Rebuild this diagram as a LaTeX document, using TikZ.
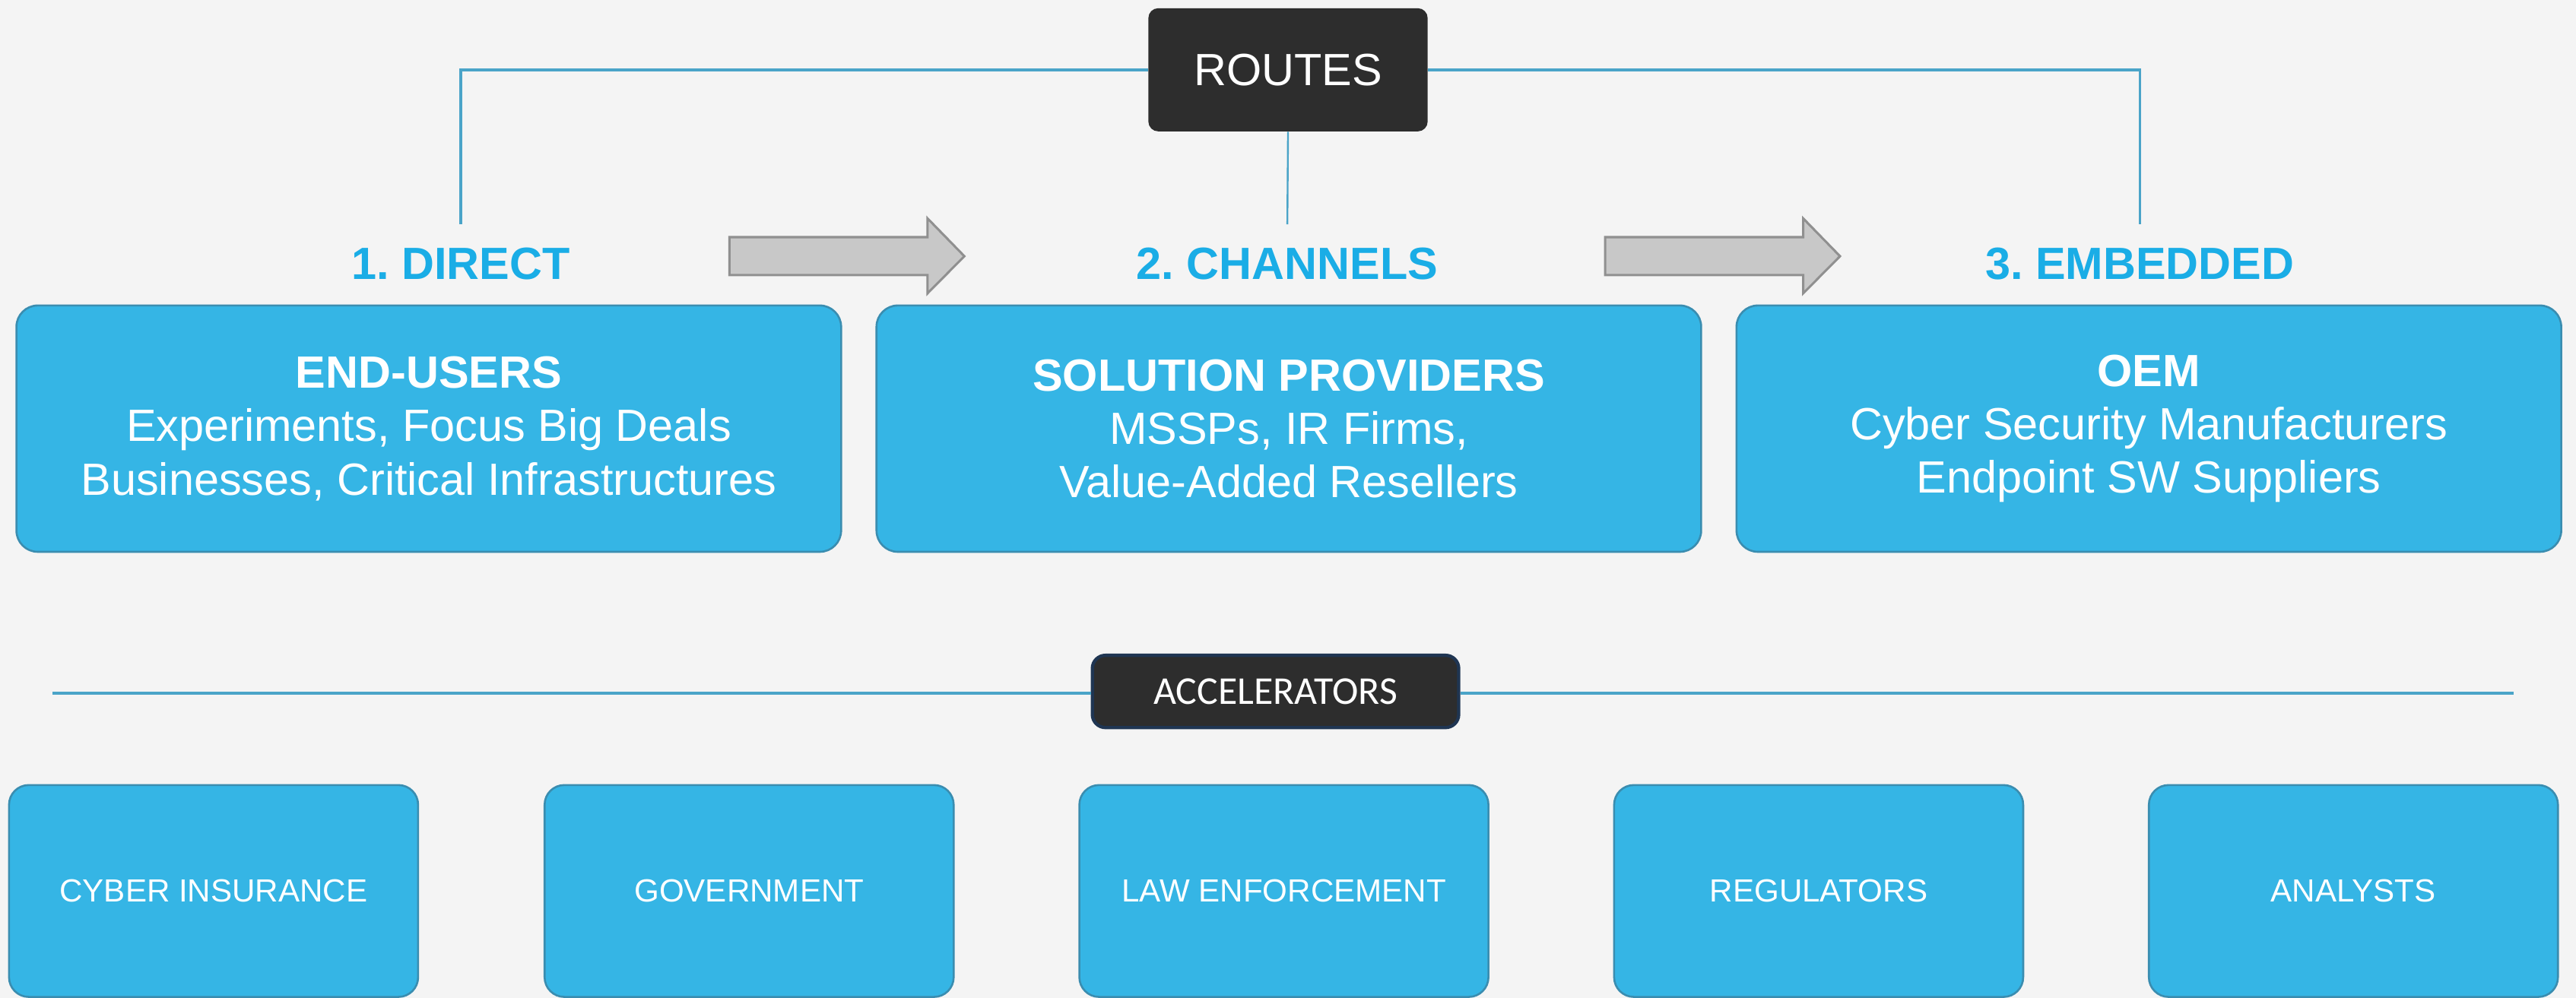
\documentclass[tikz,border=0pt]{standalone}
\usepackage{fontspec}
\setmainfont{Liberation Sans}
\newfontfamily\accelfont{Carlito}
\usetikzlibrary{positioning}
\frenchspacing

\definecolor{pagegray}{HTML}{F4F4F4}
\definecolor{boxblue}{HTML}{35B5E5}
\definecolor{boxedge}{HTML}{3A8DB0}
\definecolor{routeline}{HTML}{4AA4C8}
\definecolor{labelblue}{HTML}{1AADE6}
\definecolor{darkfill}{HTML}{2D2D2D}
\definecolor{navyedge}{HTML}{1F3552}
\definecolor{arrowfill}{HTML}{C8C8C8}
\definecolor{arrowedge}{HTML}{909090}

\tikzset{
  headbox/.style={fill=darkfill, rounded corners=6pt, minimum width=170pt, minimum height=75pt,
    inner sep=0pt, text=white, font=\fontsize{27.5}{33}\selectfont},
  routelabel/.style={inner sep=0pt, text=labelblue, font=\bfseries\fontsize{27.5}{33}\selectfont},
  routebox/.style={fill=boxblue, draw=boxedge, line width=1.2pt, rounded corners=13pt,
    minimum width=502pt, minimum height=150pt, text=white, align=center,
    font=\fontsize{27.5}{32.5}\selectfont},
  accelbox/.style={fill=darkfill, draw=navyedge, line width=2pt, rounded corners=8pt,
    minimum width=223pt, minimum height=44pt, inner sep=0pt, text=white,
    font=\accelfont\fontsize{24}{28}\selectfont},
  smallbox/.style={fill=boxblue, draw=boxedge, line width=1.2pt, rounded corners=12pt,
    minimum width=249pt, minimum height=129pt, text=white, font=\fontsize{19.5}{23}\selectfont},
  link/.style={draw=routeline, line width=1.6pt},
  blockarrow/.style={fill=arrowfill, draw=arrowedge, line width=1.4pt, line join=miter}
}

\begin{document}
\begin{tikzpicture}[x=1pt,y=-1pt]
  \fill[pagegray] (0,0) rectangle (1568,607.6);

  % routes
  \node[headbox] (routes) at (784,42.5) {ROUTES};
  \node[routelabel, anchor=base] (direct) at (280.5,170) {1. DIRECT};
  \node[routelabel, anchor=base] (channels) at (783.5,170) {2. CHANNELS};
  \node[routelabel, anchor=base] (embedded) at (1302.5,170) {3. EMBEDDED};

  \draw[link, shorten >=14pt] (routes.west) -| (direct.north);
  \draw[link, shorten >=14pt] (routes.east) -| (embedded.north);
  \draw[link, line width=1.1pt, shorten >=14pt] (routes.south) -- (channels.north);

  \draw[blockarrow] (444,144.4) -- ++(120.6,0) -- ++(0,-11.4) -- ++(22.4,23)
    -- ++(-22.4,22.6) -- ++(0,-11.1) -- ++(-120.6,0) -- cycle;
  \draw[blockarrow] (977,144.4) -- ++(120.6,0) -- ++(0,-11.4) -- ++(22.4,23)
    -- ++(-22.4,22.6) -- ++(0,-11.1) -- ++(-120.6,0) -- cycle;

  \node[routebox] (endusers) at (261,261) {\textbf{END-USERS}\\Experiments, Focus Big Deals\\Businesses, Critical Infrastructures};
  \node[routebox] (providers) at (784.5,261) {\textbf{SOLUTION PROVIDERS}\\MSSPs, IR Firms,\\Value-Added Resellers};
  \node[routebox] (oem) at (1308,261) {\textbf{OEM}\\Cyber Security Manufacturers\\Endpoint SW Suppliers};

  % accelerators
  \node[accelbox] (accel) at (776.4,421) {ACCELERATORS};
  \coordinate (accleft) at (32,422);
  \coordinate (accright) at (1530,422);
  \draw[link] (accleft) -- (accleft -| accel.west);
  \draw[link] (accel.east |- accright) -- (accright);

  \node[smallbox] (insurance) at (130,542.5) {CYBER INSURANCE};
  \node[smallbox] (government) at (456,542.5) {GOVERNMENT};
  \node[smallbox] (lawenf) at (781.5,542.5) {LAW ENFORCEMENT};
  \node[smallbox] (regulators) at (1107,542.5) {REGULATORS};
  \node[smallbox] (analysts) at (1432.5,542.5) {ANALYSTS};
\end{tikzpicture}
\end{document}
